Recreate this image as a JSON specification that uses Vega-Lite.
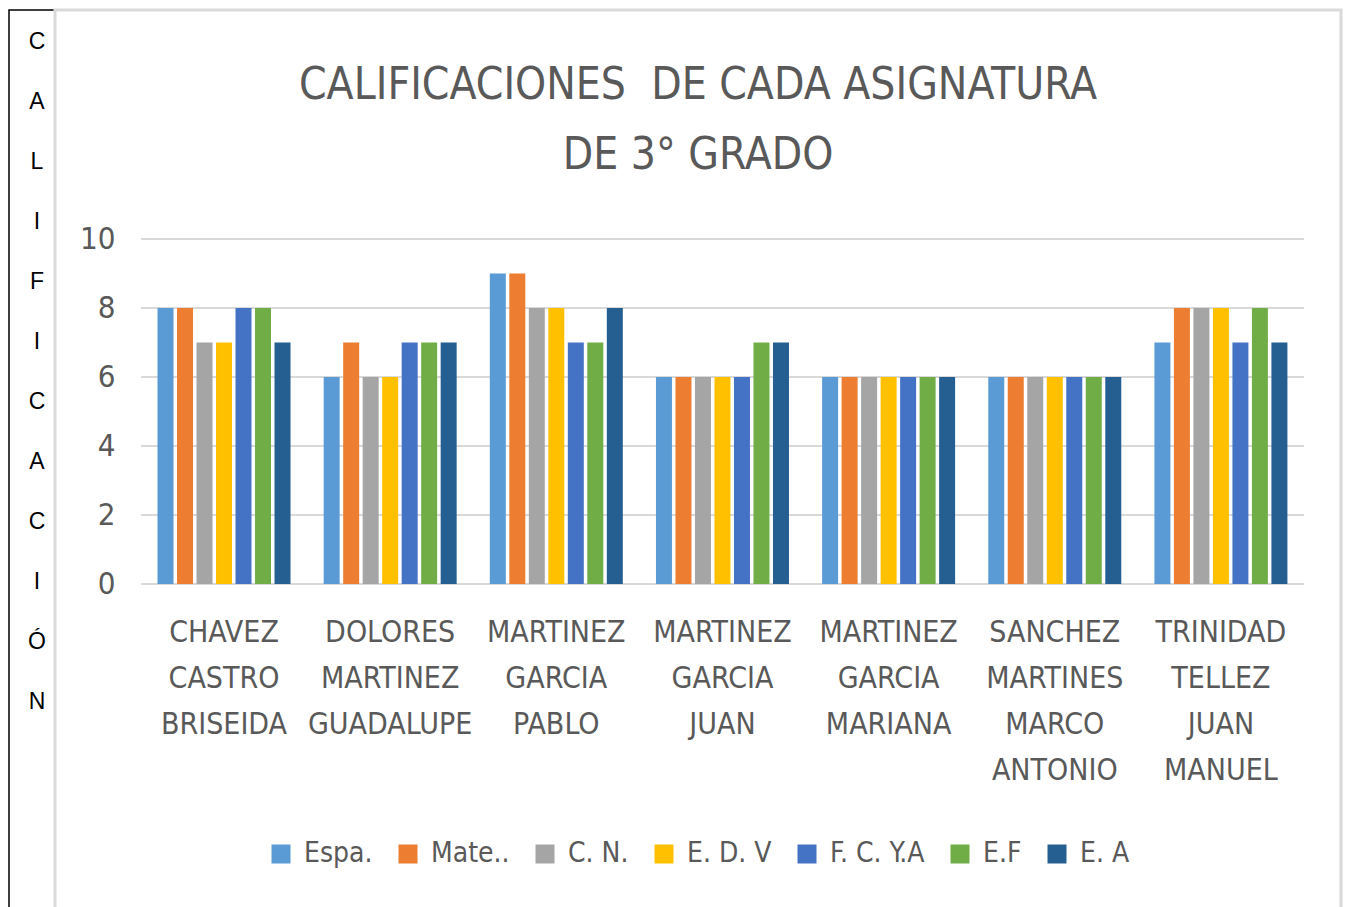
{
  "$schema": "https://vega.github.io/schema/vega-lite/v6.json",
  "background": "white",
  "padding": {"left": 8, "top": 8, "right": 0, "bottom": 0},
  "spacing": 0,
  "bounds": "flush",
  "config": {
    "font": "Liberation Sans Narrow, DejaVu Sans Condensed, sans-serif"
  },
  "hconcat": [
    {
      "width": 46,
      "height": 899,
      "view": {"stroke": "black", "strokeWidth": 1.5},
      "data": {"values": [
        {"letra": "C", "pos": 1}, {"letra": "A", "pos": 2}, {"letra": "L", "pos": 3},
        {"letra": "I", "pos": 4}, {"letra": "F", "pos": 5}, {"letra": "I", "pos": 6},
        {"letra": "C", "pos": 7}, {"letra": "A", "pos": 8}, {"letra": "C", "pos": 9},
        {"letra": "I", "pos": 10}, {"letra": "Ó", "pos": 11}, {"letra": "N", "pos": 12}
      ]},
      "mark": {"type": "text", "font": "Liberation Sans, Arial, sans-serif", "fontSize": 23, "color": "black", "dx": 5, "baseline": "middle", "align": "center"},
      "encoding": {
        "y": {"field": "pos", "type": "quantitative", "scale": {"domain": [0.4667, 15.45], "reverse": true, "nice": false, "zero": false}, "axis": null},
        "text": {"field": "letra", "type": "nominal"}
      }
    },
    {
      "width": 1286,
      "height": 899,
      "view": {"stroke": "#d9d9d9", "strokeWidth": 3},
      "title": {
        "text": ["CALIFICACIONES\u00a0 DE CADA ASIGNATURA", "DE 3° GRADO"],
        "fontSize": 44,
        "font": "Liberation Sans Narrow, DejaVu Sans Condensed, sans-serif",
        "fontWeight": "normal",
        "color": "#595959",
        "lineHeight": 70,
        "anchor": "middle",
        "frame": "group",
        "offset": -168
      },
      "layer": [
        {
          "data": {"values": [{"v": 0}, {"v": 2}, {"v": 4}, {"v": 6}, {"v": 8}, {"v": 10}]},
          "mark": {"type": "rule", "color": "#d9d9d9", "strokeWidth": 2},
          "encoding": {
            "y": {
              "field": "v", "type": "quantitative",
              "scale": {"domain": [-9.42, 16.638], "nice": false, "zero": false},
              "axis": {
                "orient": "left", "offset": -86, "values": [0, 2, 4, 6, 8, 10], "title": null,
                "domain": false, "ticks": false, "grid": false, "labelPadding": 26,
                "labelFontSize": 31, "labelColor": "#595959"
              }
            },
            "x": {"datum": "CHAVEZ CASTRO BRISEIDA", "type": "nominal", "bandPosition": 0},
            "x2": {"datum": "TRINIDAD TELLEZ JUAN MANUEL", "bandPosition": 1}
          }
        },
        {
          "data": {"values": [
            {"n": "CHAVEZ CASTRO BRISEIDA", "s": "Espa.", "v": 8},
            {"n": "CHAVEZ CASTRO BRISEIDA", "s": "Mate..", "v": 8},
            {"n": "CHAVEZ CASTRO BRISEIDA", "s": "C. N.", "v": 7},
            {"n": "CHAVEZ CASTRO BRISEIDA", "s": "E. D. V", "v": 7},
            {"n": "CHAVEZ CASTRO BRISEIDA", "s": "F. C. Y.A", "v": 8},
            {"n": "CHAVEZ CASTRO BRISEIDA", "s": "E.F", "v": 8},
            {"n": "CHAVEZ CASTRO BRISEIDA", "s": "E. A", "v": 7},
            {"n": "DOLORES MARTINEZ GUADALUPE", "s": "Espa.", "v": 6},
            {"n": "DOLORES MARTINEZ GUADALUPE", "s": "Mate..", "v": 7},
            {"n": "DOLORES MARTINEZ GUADALUPE", "s": "C. N.", "v": 6},
            {"n": "DOLORES MARTINEZ GUADALUPE", "s": "E. D. V", "v": 6},
            {"n": "DOLORES MARTINEZ GUADALUPE", "s": "F. C. Y.A", "v": 7},
            {"n": "DOLORES MARTINEZ GUADALUPE", "s": "E.F", "v": 7},
            {"n": "DOLORES MARTINEZ GUADALUPE", "s": "E. A", "v": 7},
            {"n": "MARTINEZ GARCIA PABLO", "s": "Espa.", "v": 9},
            {"n": "MARTINEZ GARCIA PABLO", "s": "Mate..", "v": 9},
            {"n": "MARTINEZ GARCIA PABLO", "s": "C. N.", "v": 8},
            {"n": "MARTINEZ GARCIA PABLO", "s": "E. D. V", "v": 8},
            {"n": "MARTINEZ GARCIA PABLO", "s": "F. C. Y.A", "v": 7},
            {"n": "MARTINEZ GARCIA PABLO", "s": "E.F", "v": 7},
            {"n": "MARTINEZ GARCIA PABLO", "s": "E. A", "v": 8},
            {"n": "MARTINEZ GARCIA JUAN", "s": "Espa.", "v": 6},
            {"n": "MARTINEZ GARCIA JUAN", "s": "Mate..", "v": 6},
            {"n": "MARTINEZ GARCIA JUAN", "s": "C. N.", "v": 6},
            {"n": "MARTINEZ GARCIA JUAN", "s": "E. D. V", "v": 6},
            {"n": "MARTINEZ GARCIA JUAN", "s": "F. C. Y.A", "v": 6},
            {"n": "MARTINEZ GARCIA JUAN", "s": "E.F", "v": 7},
            {"n": "MARTINEZ GARCIA JUAN", "s": "E. A", "v": 7},
            {"n": "MARTINEZ GARCIA MARIANA", "s": "Espa.", "v": 6},
            {"n": "MARTINEZ GARCIA MARIANA", "s": "Mate..", "v": 6},
            {"n": "MARTINEZ GARCIA MARIANA", "s": "C. N.", "v": 6},
            {"n": "MARTINEZ GARCIA MARIANA", "s": "E. D. V", "v": 6},
            {"n": "MARTINEZ GARCIA MARIANA", "s": "F. C. Y.A", "v": 6},
            {"n": "MARTINEZ GARCIA MARIANA", "s": "E.F", "v": 6},
            {"n": "MARTINEZ GARCIA MARIANA", "s": "E. A", "v": 6},
            {"n": "SANCHEZ MARTINES MARCO ANTONIO", "s": "Espa.", "v": 6},
            {"n": "SANCHEZ MARTINES MARCO ANTONIO", "s": "Mate..", "v": 6},
            {"n": "SANCHEZ MARTINES MARCO ANTONIO", "s": "C. N.", "v": 6},
            {"n": "SANCHEZ MARTINES MARCO ANTONIO", "s": "E. D. V", "v": 6},
            {"n": "SANCHEZ MARTINES MARCO ANTONIO", "s": "F. C. Y.A", "v": 6},
            {"n": "SANCHEZ MARTINES MARCO ANTONIO", "s": "E.F", "v": 6},
            {"n": "SANCHEZ MARTINES MARCO ANTONIO", "s": "E. A", "v": 6},
            {"n": "TRINIDAD TELLEZ JUAN MANUEL", "s": "Espa.", "v": 7},
            {"n": "TRINIDAD TELLEZ JUAN MANUEL", "s": "Mate..", "v": 8},
            {"n": "TRINIDAD TELLEZ JUAN MANUEL", "s": "C. N.", "v": 8},
            {"n": "TRINIDAD TELLEZ JUAN MANUEL", "s": "E. D. V", "v": 8},
            {"n": "TRINIDAD TELLEZ JUAN MANUEL", "s": "F. C. Y.A", "v": 7},
            {"n": "TRINIDAD TELLEZ JUAN MANUEL", "s": "E.F", "v": 8},
            {"n": "TRINIDAD TELLEZ JUAN MANUEL", "s": "E. A", "v": 7}
          ]},
          "mark": {"type": "bar"},
          "encoding": {
            "x": {
              "field": "n", "type": "nominal",
              "scale": {
                "domain": ["CHAVEZ CASTRO BRISEIDA", "DOLORES MARTINEZ GUADALUPE", "MARTINEZ GARCIA PABLO", "MARTINEZ GARCIA JUAN", "MARTINEZ GARCIA MARIANA", "SANCHEZ MARTINES MARCO ANTONIO", "TRINIDAD TELLEZ JUAN MANUEL"],
                "paddingInner": 0, "paddingOuter": 0.37, "align": 0.699
              },
              "axis": {
                "orient": "bottom", "offset": -325, "title": null, "domain": false, "ticks": false,
                "labelAngle": 0, "labelAlign": "center", "labelPadding": 33, "labelFontSize": 30, "labelColor": "#595959",
                "labelLineHeight": 46, "labelExpr": "split(datum.label, ' ')", "labelLimit": 0,
                "labelBaseline": "top", "labelOverlap": false
              }
            },
            "xOffset": {
              "field": "s", "type": "nominal", "sort": null,
              "scale": {"domain": ["Espa.", "Mate..", "C. N.", "E. D. V", "F. C. Y.A", "E.F", "E. A"], "paddingInner": 0.18, "paddingOuter": 0.85}
            },
            "y": {
              "field": "v", "type": "quantitative",
              "scale": {"domain": [-9.42, 16.638], "nice": false, "zero": false},
              "axis": {
                "orient": "left", "offset": -86, "values": [0, 2, 4, 6, 8, 10], "title": null,
                "domain": false, "ticks": false, "grid": false, "labelPadding": 26,
                "labelFontSize": 31, "labelColor": "#595959"
              }
            },
            "y2": {"datum": 0},
            "color": {
              "field": "s", "type": "nominal", "sort": null,
              "scale": {
                "domain": ["Espa.", "Mate..", "C. N.", "E. D. V", "F. C. Y.A", "E.F", "E. A"],
                "range": ["#5B9BD5", "#ED7D31", "#A5A5A5", "#FFC000", "#4472C4", "#70AD47", "#255E91"]
              },
              "legend": {
                "orient": "none", "legendX": 258, "legendY": 830, "direction": "horizontal", "columns": 7,
                "title": null, "symbolType": "square", "symbolSize": 361, "symbolStrokeWidth": 0,
                "symbolOpacity": 1, "labelFontSize": 28, "labelColor": "#595959", "labelOffset": 9,
                "columnPadding": 21, "padding": 0, "labelLimit": 0
              }
            }
          }
        }
      ]
    }
  ]
}
